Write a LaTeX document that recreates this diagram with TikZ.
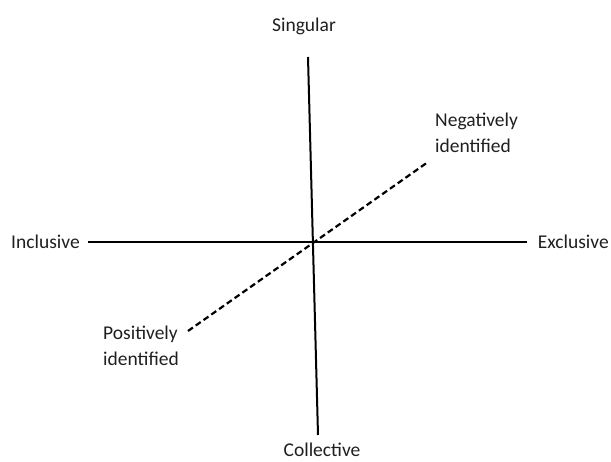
\documentclass[tikz,border=0pt]{standalone}
\usepackage{fontspec}
\setmainfont{Carlito}
\begin{document}
\begin{tikzpicture}[x=1pt,y=-1pt,
  lbl/.style={inner sep=0pt,font=\fontsize{19.5}{26}\selectfont,text=black!88},
  axis/.style={line width=2pt,black},
  dashaxis/.style={line width=2.2pt,black,dash pattern=on 6pt off 3.5pt}]
\useasboundingbox (0,0) rectangle (611,462);
\node[lbl] (sing) at (304,26) {Singular};
\node[lbl,anchor=base] (coll) at (322,456.5) {Collective};
\node[lbl,anchor=west] (incl) at (11,242) {Inclusive};
\node[lbl,anchor=east] (excl) at (609,242) {Exclusive};
\node[lbl,anchor=west,align=left] (neg) at (435,133) {Negatively\\identified};
\node[lbl,anchor=west,align=left] (pos) at (103,346) {Positively\\identified};
\coordinate (vt) at (308,57);
\coordinate (vb) at (318,435);
\coordinate (hl) at (88,242);
\coordinate (hr) at (527,242);
\coordinate (dl) at (188,331);
\coordinate (dr) at (428,162);
\draw[axis] (vt) -- (vb);
\draw[axis] (hl) -- (hr);
\draw[dashaxis] (dl) -- (dr);
\end{tikzpicture}
\end{document}
